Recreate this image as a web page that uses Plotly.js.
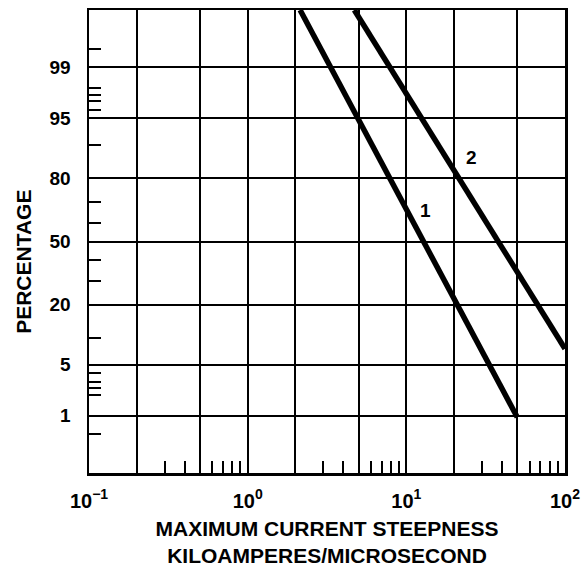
<!DOCTYPE html>
<html>
<head>
<meta charset="utf-8">
<script src="https://cdn.plot.ly/plotly-3.0.1.min.js"></script>
<style>html,body{margin:0;padding:0;background:#fff;}#chart{width:587px;height:567px;}</style>
</head>
<body>
<div id="chart"></div>
<script>
// ---- data ----
const curve1X = [2.14, 3.33, 4.95, 7.85, 12.8, 20.8, 33, 50];
const curve1P = [99.9, 99, 95, 80, 50, 20, 5, 0.95];
const curve2X = [4.7, 7.9, 12.5, 21.4, 38, 67, 100];
const curve2P = [99.9, 99, 95, 80, 50, 20, 7.6];
const curveNames = ["1", "2"];
const curveLabelX = [13.3, 25.9];
const curveLabelP = [66, 87];

const xDecadeVals = [0.1, 1, 10, 100];
const xDecadeText = ["10<sup>\u22121</sup>", "10<sup>0</sup>", "10<sup>1</sup>", "10<sup>2</sup>"];
const xSubGridVals = [0.2, 0.5, 2, 5, 20, 50];
const xMinorVals = [0.3, 0.4, 0.6, 0.7, 0.8, 0.9, 3, 4, 6, 7, 8, 9, 30, 40, 60, 70, 80, 90];

const yTickP = [1, 5, 20, 50, 80, 95, 99];
const yTickText = ["1", "5", "20", "50", "80", "95", "99"];
const yMinorP = [0.5, 2, 2.5, 3, 4, 10, 30, 40, 60, 70, 90, 96, 97, 97.5, 98, 99.5];
const yRangeP = [0.1, 99.9];

const xTitle = "MAXIMUM CURRENT STEEPNESS<br>KILOAMPERES/MICROSECOND";
const yTitle = "PERCENTAGE";

// normal probability (probit) transform for the probability-paper axis
function probit(pct) {
  const p = pct / 100;
  const a = [-3.969683028665376e+01, 2.209460984245205e+02, -2.759285104469687e+02, 1.383577518672690e+02, -3.066479806614716e+01, 2.506628277459239e+00];
  const b = [-5.447609879822406e+01, 1.615858368580409e+02, -1.556989798598866e+02, 6.680131188771972e+01, -1.328068155288572e+01];
  const c = [-7.784894002430293e-03, -3.223964580411365e-01, -2.400758277161838e+00, -2.549732539343734e+00, 4.374664141464968e+00, 2.938163982698783e+00];
  const d = [7.784695709041462e-03, 3.224671290700398e-01, 2.445134137142996e+00, 3.754408661907416e+00];
  const pl = 0.02425, ph = 1 - pl;
  let q, r;
  if (p < pl) {
    q = Math.sqrt(-2 * Math.log(p));
    return (((((c[0]*q+c[1])*q+c[2])*q+c[3])*q+c[4])*q+c[5]) / ((((d[0]*q+d[1])*q+d[2])*q+d[3])*q+1);
  }
  if (p <= ph) {
    q = p - 0.5; r = q * q;
    return (((((a[0]*r+a[1])*r+a[2])*r+a[3])*r+a[4])*r+a[5])*q / (((((b[0]*r+b[1])*r+b[2])*r+b[3])*r+b[4])*r+1);
  }
  q = Math.sqrt(-2 * Math.log(1 - p));
  return -(((((c[0]*q+c[1])*q+c[2])*q+c[3])*q+c[4])*q+c[5]) / ((((d[0]*q+d[1])*q+d[2])*q+d[3])*q+1);
}

const FONT = "'Liberation Sans', Arial, Helvetica, sans-serif";
const txt = (size) => ({family: FONT, size: size, color: "#000", weight: "bold"});

const traces = [
  {x: curve1X, y: curve1P.map(probit), type: "scatter", mode: "lines", name: curveNames[0],
   line: {color: "#000", width: 5.5}, hoverinfo: "skip"},
  {x: curve2X, y: curve2P.map(probit), type: "scatter", mode: "lines", name: curveNames[1],
   line: {color: "#000", width: 5.5}, hoverinfo: "skip"},
  // invisible anchor so the overlaid grid axis is built
  {x: [xDecadeVals[1]], y: [probit(50)], xaxis: "x2", type: "scatter", mode: "markers",
   marker: {opacity: 0}, hoverinfo: "skip", showlegend: false}
];

const layout = {
  width: 587, height: 567,
  margin: {l: 89, r: 22, t: 10, b: 94},
  paper_bgcolor: "#fff", plot_bgcolor: "#fff",
  showlegend: false,
  font: txt(19),
  xaxis: {
    type: "log", range: [-1, 2],
    tickmode: "array", tickvals: xDecadeVals, ticktext: xDecadeText,
    ticks: "", ticklabelstandoff: 8,
    tickfont: txt(20),
    showgrid: true, gridcolor: "#000", gridwidth: 2,
    showline: true, linecolor: "#000", linewidth: 2.5, mirror: true,
    zeroline: false,
    minor: {tickmode: "array", tickvals: xMinorVals, ticks: "inside", ticklen: 12,
            tickwidth: 2, tickcolor: "#000", showgrid: false},
    title: {text: xTitle, font: txt(21), standoff: 16}
  },
  xaxis2: {
    type: "log", range: [-1, 2], overlaying: "x", anchor: "y", side: "bottom",
    tickmode: "array", tickvals: xSubGridVals, showticklabels: false, ticks: "",
    showgrid: true, gridcolor: "#000", gridwidth: 2, showline: false, zeroline: false
  },
  yaxis: {
    range: yRangeP.map(probit),
    tickmode: "array", tickvals: yTickP.map(probit), ticktext: yTickText,
    ticks: "", ticklabelstandoff: 12,
    tickfont: txt(19),
    showgrid: true, gridcolor: "#000", gridwidth: 2,
    showline: true, linecolor: "#000", linewidth: 2.5, mirror: true,
    zeroline: false,
    minor: {tickmode: "array", tickvals: yMinorP.map(probit), ticks: "inside", ticklen: 12,
            tickwidth: 2, tickcolor: "#000", showgrid: false}
  },
  annotations: [
    {xref: "paper", yref: "paper", x: (24 - 89) / 476, y: 0.456, xanchor: "center", yanchor: "middle",
     text: yTitle, textangle: -90, showarrow: false, font: txt(21)},
    {x: Math.log10(curveLabelX[0]), y: probit(curveLabelP[0]), text: curveNames[0], showarrow: false,
     xanchor: "center", yanchor: "middle", font: txt(19)},
    {x: Math.log10(curveLabelX[1]), y: probit(curveLabelP[1]), text: curveNames[1], showarrow: false,
     xanchor: "center", yanchor: "middle", font: txt(19)}
  ]
};

Plotly.newPlot("chart", traces, layout, {staticPlot: true, displayModeBar: false});
</script>
</body>
</html>
